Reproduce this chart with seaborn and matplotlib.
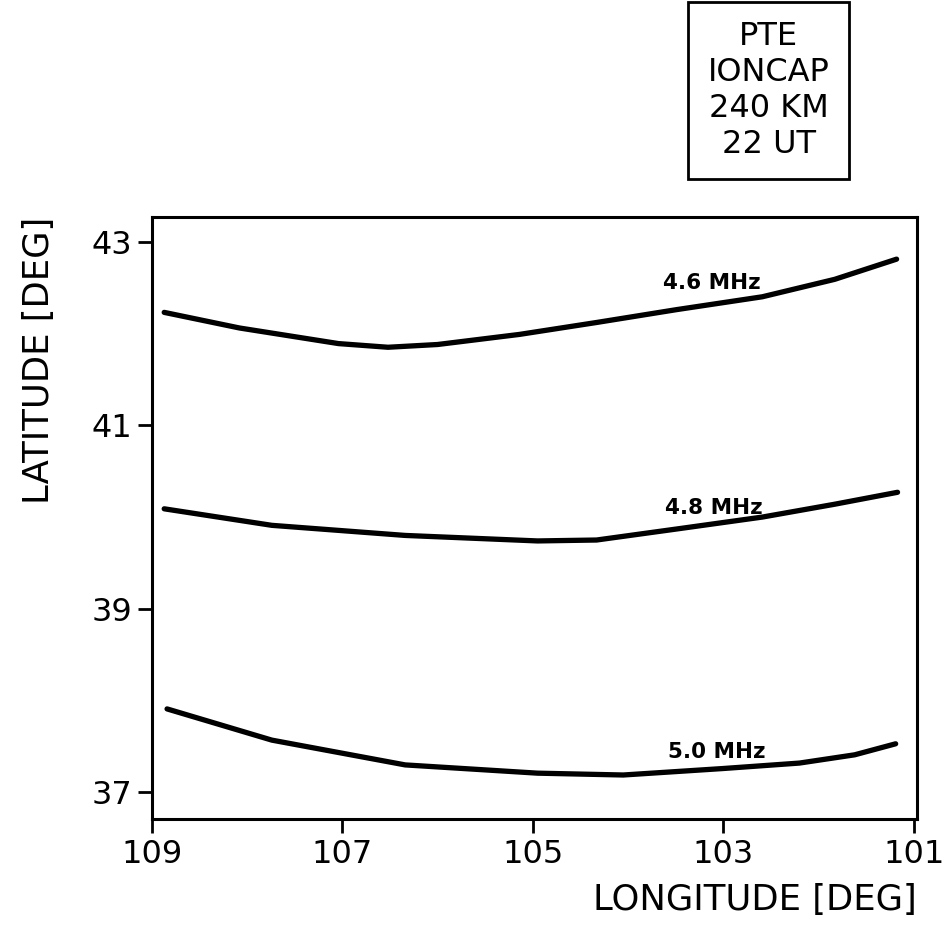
import numpy as np
import pandas as pd
import matplotlib
matplotlib.use("Agg")
import matplotlib.pyplot as plt
import seaborn as sns

# values (longitude, latitude)
lon_46 = [108.87, 108.08, 107.04, 106.52, 106.00, 105.14, 104.33, 103.49, 102.59, 101.83, 101.18]
lat_46 = [42.23, 42.06, 41.89, 41.85, 41.88, 41.99, 42.12, 42.26, 42.40, 42.59, 42.81]

lon_48 = [108.87, 107.74, 106.34, 104.95, 104.33, 103.49, 102.59, 101.83, 101.17]
lat_48 = [40.09, 39.91, 39.80, 39.74, 39.75, 39.87, 40.00, 40.14, 40.27]

lon_50 = [108.84, 107.74, 106.34, 104.95, 104.05, 103.01, 102.20, 101.62, 101.19]
lat_50 = [37.91, 37.57, 37.30, 37.21, 37.19, 37.26, 37.32, 37.41, 37.53]

freq_labels = ["4.6 MHz", "4.8 MHz", "5.0 MHz"]
x_ticks = [109, 107, 105, 103, 101]
y_ticks = [37, 39, 41, 43]
info_text = "PTE\nIONCAP\n240 KM\n22 UT"

sns.set_theme(style="ticks")
plt.rcParams['font.family'] = ['DejaVu Sans']
plt.rcParams['text.color'] = 'black'
plt.rcParams['axes.labelcolor'] = 'black'

fig = plt.figure(figsize=(9.43, 9.35), dpi=100)
ax = fig.add_axes([0.161, 0.124, 0.811, 0.644])

curves = [(lon_46, lat_46), (lon_48, lat_48), (lon_50, lat_50)]
for (lon, lat), name in zip(curves, freq_labels):
    df = pd.DataFrame({"lon": lon, "lat": lat})
    sns.lineplot(data=df, x="lon", y="lat", ax=ax, color="black",
                 linewidth=3.8, sort=False, estimator=None)

# curve labels
label_pos = [(103.12, 42.55), (103.10, 40.10), (103.07, 37.44)]
for (x, y), name in zip(label_pos, freq_labels):
    ax.text(x, y, name, ha="center", va="center", fontsize=15.5,
            fontweight="bold", color="black")

ax.set_xlim(109, 100.97)
ax.set_ylim(36.71, 43.27)
ax.set_xticks(x_ticks)
ax.set_yticks(y_ticks)
ax.set_xticklabels([str(v) for v in x_ticks])
ax.set_yticklabels([str(v) for v in y_ticks])
ax.tick_params(axis="both", direction="out", length=10, width=2,
               labelsize=23, colors="black", pad=4)

for s in ax.spines.values():
    s.set_linewidth(2.2)
    s.set_color("black")

ax.set_xlabel("LONGITUDE [DEG]", fontsize=25.5, loc="right", labelpad=10)
ax.set_ylabel("LATITUDE [DEG]", fontsize=25.5, loc="top", labelpad=26)

fig.text(0.815, 0.903, info_text, ha="center", va="center", fontsize=23,
         linespacing=1.2,
         bbox=dict(boxstyle="square,pad=0.6", facecolor="white",
                   edgecolor="black", linewidth=2))

fig.savefig("out.png", dpi=100, facecolor="white")
